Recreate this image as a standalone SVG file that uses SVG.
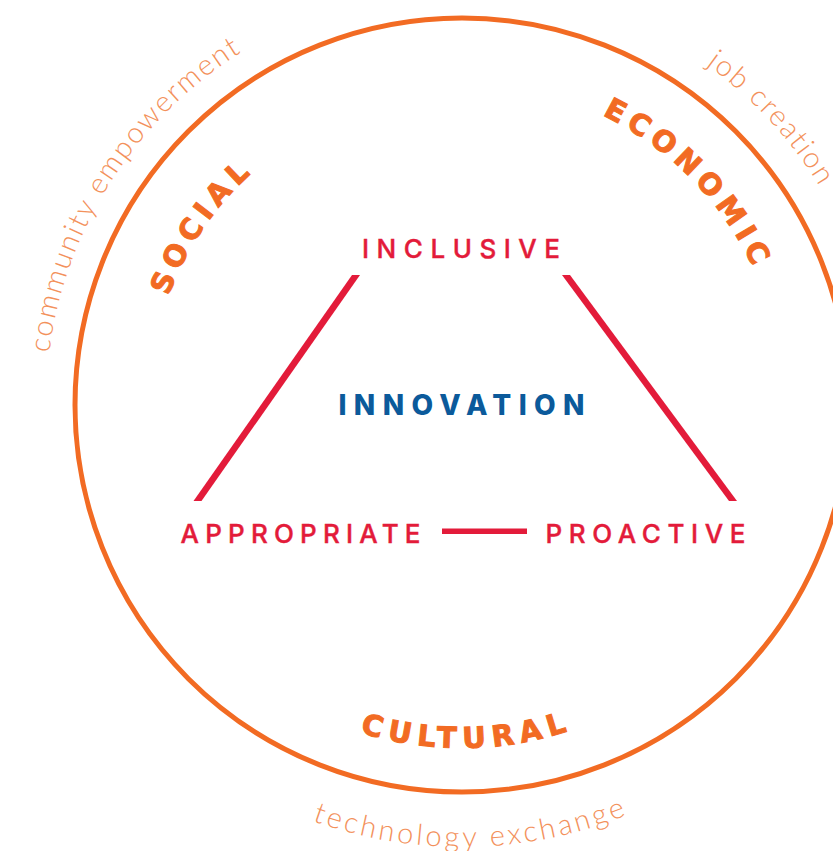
<svg xmlns="http://www.w3.org/2000/svg" xmlns:xlink="http://www.w3.org/1999/xlink" width="833" height="851" viewBox="0 0 833 851">
  <style>
    .ring { fill: none; stroke: #F26B23; stroke-width: 5; }
    .dim { font-family: "DejaVu Sans", "Liberation Sans", sans-serif; font-weight: bold; font-size: 29px; fill: #F26B23; stroke: #F26B23; stroke-width: 1; letter-spacing: 6px; }
    .sub { font-family: Lato, "Open Sans", sans-serif; font-weight: 300; font-size: 29px; fill: #F3915B; }
    .node { font-family: Inter, "DejaVu Sans", sans-serif; font-weight: 500; font-size: 26px; fill: #E31B3A; stroke: #E31B3A; stroke-width: 0.4; }
    .core { font-family: Inter, "DejaVu Sans", sans-serif; font-weight: 800; font-size: 28px; fill: #0B5A9B; }
    .link { fill: #E31B3A; }
  </style>
  <defs>
    <path id="pSocial" d="M154.24,462.04 A313,313 0 0 1 404.96,97.24"/>
    <path id="pEconomic" d="M465.93,83.02 A322,322 0 0 1 783.98,408.93"/>
    <path id="pCultural" d="M223.07,651.10 A343,343 0 0 0 708.10,643.93"/>
    <path id="pCommunity" d="M55.55,493.62 A416,416 0 0 1 373.38,-1.45"/>
    <path id="pJob" d="M478.08,-13.69 A419,419 0 0 1 880.69,421.08"/>
    <path id="pTech" d="M156.35,724.28 A442,442 0 0 0 781.02,710.93"/>
  </defs>
  <rect width="833" height="851" fill="#FFFFFF"/>

  <g id="ring">
    <circle class="ring" cx="462" cy="405" r="387"/>
  </g>

  <g id="dimension-social">
    <text class="dim" text-anchor="middle"><textPath xlink:href="#pSocial" href="#pSocial" startOffset="50%">SOCIAL</textPath></text>
  </g>
  <g id="dimension-economic">
    <text class="dim" text-anchor="middle"><textPath xlink:href="#pEconomic" href="#pEconomic" startOffset="50%">ECONOMIC</textPath></text>
  </g>
  <g id="dimension-cultural">
    <text class="dim" text-anchor="middle" style="letter-spacing:6.5px"><textPath xlink:href="#pCultural" href="#pCultural" startOffset="50%">CULTURAL</textPath></text>
  </g>

  <g id="outcome-community">
    <text class="sub" text-anchor="middle" style="letter-spacing:2px"><textPath xlink:href="#pCommunity" href="#pCommunity" startOffset="50%">community empowerment</textPath></text>
  </g>
  <g id="outcome-job">
    <text class="sub" text-anchor="middle" style="letter-spacing:1.8px"><textPath xlink:href="#pJob" href="#pJob" startOffset="50%">job creation</textPath></text>
  </g>
  <g id="outcome-technology">
    <text class="sub" text-anchor="middle" style="letter-spacing:3.2px"><textPath xlink:href="#pTech" href="#pTech" startOffset="50%">technology exchange</textPath></text>
  </g>

  <g id="connectors">
    <polygon class="link" points="352,275 360,275 201.5,501 193.5,501"/>
    <polygon class="link" points="562,275 570,275 737,501 729,501"/>
    <rect class="link" x="442" y="528.5" width="85" height="5.5"/>
  </g>

  <g id="node-inclusive">
    <text class="node" x="461" y="258" text-anchor="middle" textLength="198" lengthAdjust="spacing">INCLUSIVE</text>
  </g>
  <g id="node-innovation">
    <text class="core" x="461.5" y="415" text-anchor="middle" textLength="246" lengthAdjust="spacing">INNOVATION</text>
  </g>
  <g id="node-appropriate">
    <text class="node" x="300.5" y="542.5" text-anchor="middle" textLength="240" lengthAdjust="spacing">APPROPRIATE</text>
  </g>
  <g id="node-proactive">
    <text class="node" x="645.5" y="542.5" text-anchor="middle" textLength="200" lengthAdjust="spacing">PROACTIVE</text>
  </g>
</svg>
